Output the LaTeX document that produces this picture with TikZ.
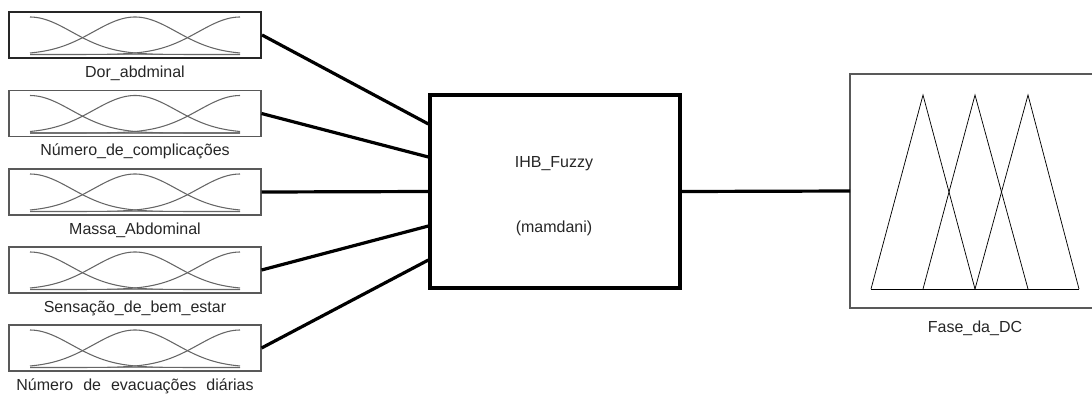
\documentclass[tikz,border=0pt]{standalone}
\usepackage{fontspec}
\setmainfont{Liberation Sans}
\usetikzlibrary{calc}
\begin{document}
\begin{tikzpicture}[x=0.75pt,y=-0.75pt,
  inbox/.style={draw=black!65,line width=0.8pt,minimum width=189pt,minimum height=34.5pt,inner sep=0pt},
  selbox/.style={inbox,draw=black!85,line width=1.6pt},
  lbl/.style={font=\fontsize{12pt}{14pt}\selectfont,text=black!85,anchor=base,inner sep=0pt},
  mf/.style={draw=black!60,line width=0.8pt},
  base/.style={draw=black!45,line width=1.1pt},
  conn/.style={line width=2.4pt,black},
  fisbox/.style={draw=black,line width=2.4pt,minimum width=187.5pt,minimum height=144.75pt,inner sep=0pt},
  tri/.style={draw=black,line width=0.55pt,line join=miter}]
\useasboundingbox (0,0) rectangle (1092,394);
\clip (0,0) rectangle (1092,394);
% input boxes
\node[selbox] (in1) at (135,35) {};
\node[inbox] (in2) at (135,113.5) {};
\node[inbox] (in3) at (135,192) {};
\node[inbox] (in4) at (135,270) {};
\node[inbox] (in5) at (135,348) {};
\foreach \t in {12,90.5,169,247,325}{
  \draw[base] (30,\t+42.5) -- (240,\t+42.5);
  \draw[mf] plot[domain=30:240,samples=70,smooth] (\x,{\t+42.5-37.5*exp(-0.5*((\x-30)/41.5)^2)});
  \draw[mf] plot[domain=30:240,samples=70,smooth] (\x,{\t+42.5-37.5*exp(-0.5*((\x-135)/41.5)^2)});
  \draw[mf] plot[domain=30:240,samples=70,smooth] (\x,{\t+42.5-37.5*exp(-0.5*((\x-240)/41.5)^2)});
}
\node[lbl] (l1) at (135,77) {Dor\_abdminal};
\node[lbl] (l2) at (135,155.5) {Número\_de\_complicações};
\node[lbl] (l3) at (135,234) {Massa\_Abdominal};
\node[lbl] (l4) at (135,312) {Sensação\_de\_bem\_estar};
\node[lbl] (l5) at (135,390) {Número\hspace{7.5pt}de\hspace{7.5pt}evacuações\hspace{7.5pt}diárias};
% FIS box
\node[fisbox] (fis) at (555,191.5) {};
\node[lbl] (t1) at (554,167) {IHB\_Fuzzy};
\node[lbl] (t2) at (554,232) {(mamdani)};
% connectors
\draw[conn] (in1.east) -- ($(fis.west)+(0,-67.5)$);
\draw[conn] (in2.east) -- ($(fis.west)+(0,-34.5)$);
\draw[conn] (in3.east) -- (fis.west);
\draw[conn] (in4.east) -- ($(fis.west)+(0,34.5)$);
\draw[conn] (in5.east) -- ($(fis.west)+(0,68.5)$);
% output box (right side runs off the picture)
\coordinate (onw) at (850,74);
\coordinate (osw) at (850,308);
\coordinate (one) at (1120,74);
\coordinate (ose) at (1120,308);
\coordinate (out) at (850,191);
\draw[draw=black!65,line width=0.8pt] (one) -- (onw) -- (osw) -- (ose);
\draw[conn] (fis.east) -- (out);
\coordinate (b1) at (871,289);
\coordinate (b2) at (923,289);
\coordinate (b3) at (975,289);
\coordinate (b4) at (1028,289);
\coordinate (b5) at (1079,289);
\coordinate (p1) at (923,95);
\coordinate (p2) at (975,95);
\coordinate (p3) at (1028,95);
\draw[tri] (b1) -- (p1) -- (b3);
\draw[tri] (b2) -- (p2) -- (b4);
\draw[tri] (b3) -- (p3) -- (b5);
\draw[tri] (b1) -- (b5);
\node[lbl] (o1) at (975,332) {Fase\_da\_DC};
\end{tikzpicture}
\end{document}
